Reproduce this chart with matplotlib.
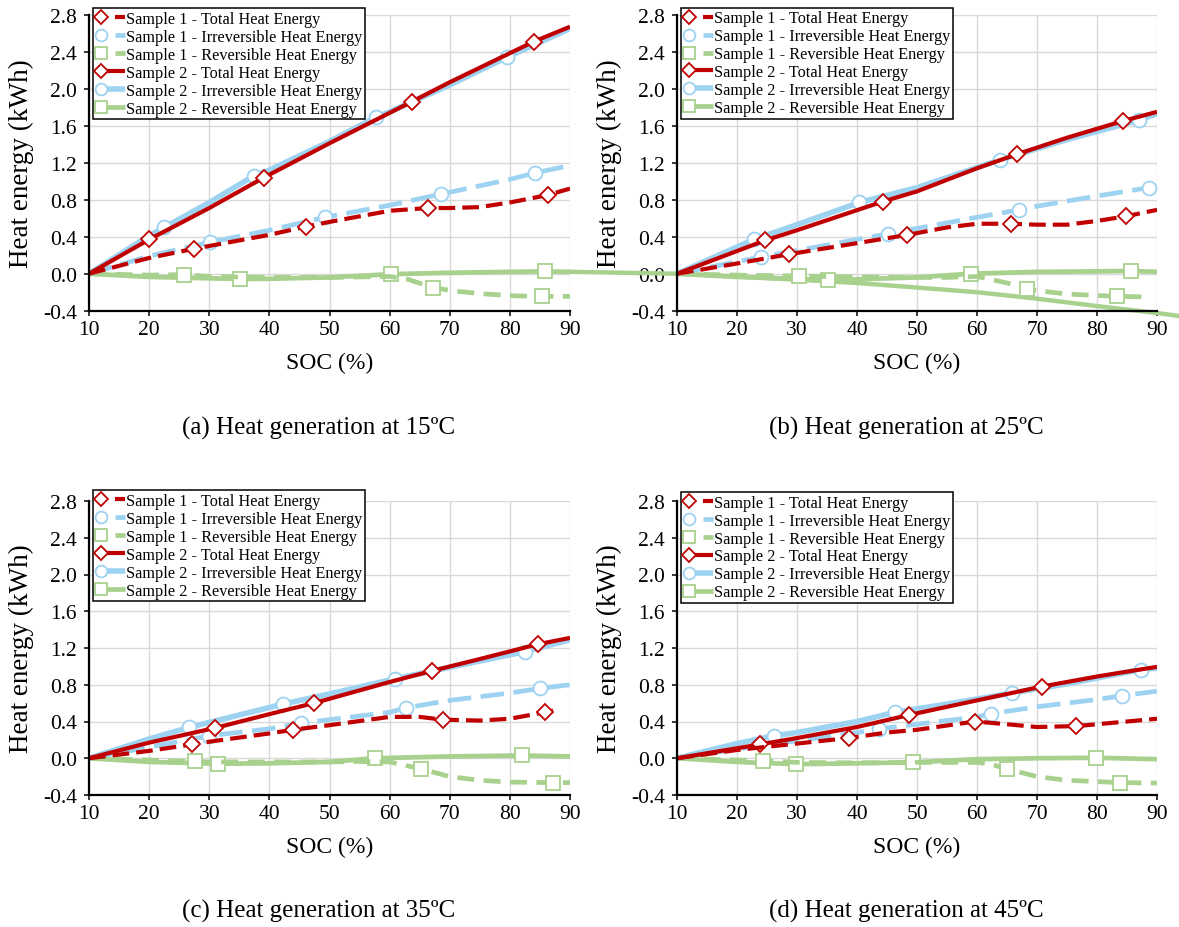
import numpy as np
import matplotlib
matplotlib.use('Agg')
import matplotlib.pyplot as plt
from matplotlib.legend_handler import HandlerLine2DCompound

plt.rcParams['font.family'] = ['Liberation Serif', 'DejaVu Serif']
plt.rcParams['axes.unicode_minus'] = False

# ---- data (SOC %, heat energy kWh) ----
x_ticks = [10, 20, 30, 40, 50, 60, 70, 80, 90]
y_ticks = [-0.4, 0.0, 0.4, 0.8, 1.2, 1.6, 2.0, 2.4, 2.8]

captions = ['(a) Heat generation at 15ºC', '(b) Heat generation at 25ºC',
            '(c) Heat generation at 35ºC', '(d) Heat generation at 45ºC']

labels = ['Sample 1 - Total Heat Energy', 'Sample 1 - Irreversible Heat Energy',
          'Sample 1 - Reversible Heat Energy', 'Sample 2 - Total Heat Energy',
          'Sample 2 - Irreversible Heat Energy', 'Sample 2 - Reversible Heat Energy']

# panel (a) 15 C
a_s1_tot_x = [10, 20, 27.5, 30, 40, 46.1, 50, 60, 66.4, 70, 75, 80, 86.3, 90]
a_s1_tot_y = [0, 0.17, 0.27, 0.30, 0.42, 0.51, 0.56, 0.68, 0.71, 0.71, 0.72, 0.77, 0.85, 0.92]
a_s1_tot_mk = [27.5, 46.1, 66.4, 86.3]
a_s1_irr_x = [10, 20, 30.1, 40, 49.3, 60, 68.5, 80, 84.2, 90]
a_s1_irr_y = [0, 0.19, 0.34, 0.47, 0.61, 0.74, 0.86, 1.02, 1.09, 1.17]
a_s1_irr_mk = [30.1, 49.3, 68.5, 84.2]
a_s1_rev_x = [10, 20, 25.8, 30, 40, 50, 55, 60, 63, 67.2, 71, 76, 81, 85.4, 90]
a_s1_rev_y = [0, -0.015, -0.01, -0.03, -0.04, -0.04, -0.035, -0.03, -0.06, -0.15, -0.19, -0.22, -0.24, -0.245, -0.245]
a_s1_rev_mk = [25.8, 67.2, 85.4]
a_s2_tot_x = [10, 20, 30, 39.1, 50, 63.7, 70, 84.0, 90]
a_s2_tot_y = [0, 0.37, 0.71, 1.04, 1.41, 1.86, 2.07, 2.51, 2.67]
a_s2_tot_mk = [20, 39.1, 63.7, 84.0]
a_s2_irr_x = [10, 20, 22.5, 30, 37.5, 40, 50, 57.7, 60, 70, 79.5, 90]
a_s2_irr_y = [0, 0.41, 0.50, 0.77, 1.06, 1.12, 1.43, 1.69, 1.75, 2.04, 2.34, 2.65]
a_s2_irr_mk = [22.5, 37.5, 57.7, 79.5]
a_s2_rev_x = [10, 20, 30, 35.1, 40, 50, 60.2, 70, 80, 85.8, 90]
a_s2_rev_y = [0, -0.035, -0.05, -0.057, -0.055, -0.04, -0.005, 0.01, 0.02, 0.025, 0.02]
a_s2_rev_mk = [35.1, 60.2, 85.8]

# panel (b) 25 C
b_s1_tot_x = [10, 20, 28.6, 40, 48.4, 55, 60, 65.6, 70, 75, 80, 84.75, 90]
b_s1_tot_y = [0, 0.11, 0.21, 0.33, 0.42, 0.50, 0.54, 0.54, 0.53, 0.53, 0.57, 0.62, 0.69]
b_s1_tot_mk = [28.6, 48.4, 65.6, 84.75]
b_s1_irr_x = [10, 20, 24.0, 30, 40, 45.1, 50, 60, 67.0, 70, 80, 88.6, 90]
b_s1_irr_y = [0, 0.13, 0.18, 0.25, 0.37, 0.43, 0.49, 0.61, 0.69, 0.73, 0.84, 0.93, 0.95]
b_s1_irr_mk = [24.0, 45.1, 67.0, 88.6]
b_s1_rev_x = [10, 20, 30.3, 40, 50, 55, 60, 65, 68.4, 75, 83.25, 88]
b_s1_rev_y = [0, -0.015, -0.025, -0.035, -0.04, -0.04, -0.03, -0.10, -0.17, -0.22, -0.245, -0.25]
b_s1_rev_mk = [30.3, 68.4, 83.25]
b_s2_tot_x = [10, 24.7, 30, 44.3, 50, 60, 66.6, 75, 84.3, 90]
b_s2_tot_y = [0, 0.36, 0.47, 0.78, 0.89, 1.14, 1.29, 1.47, 1.65, 1.75]
b_s2_tot_mk = [24.7, 44.3, 66.6, 84.3]
b_s2_irr_x = [10, 22.8, 30, 40.4, 50, 63.8, 75, 87, 90]
b_s2_irr_y = [0, 0.37, 0.53, 0.77, 0.93, 1.23, 1.45, 1.66, 1.73]
b_s2_irr_mk = [22.8, 40.4, 63.8, 87]
b_s2_rev_x = [10, 20, 30, 35.2, 40, 50, 59, 70, 80, 85.6, 90]
b_s2_rev_y = [0, -0.035, -0.055, -0.07, -0.06, -0.04, 0.0, 0.02, 0.025, 0.03, 0.02]
b_s2_rev_mk = [35.2, 59, 85.6]
# stray green line crossing from panel (a) into panel (b)
b_stray_x = [-7.7, 10, 20, 30, 40, 50, 60, 70, 80, 90, 94]
b_stray_y = [0.02, 0, -0.03, -0.065, -0.10, -0.15, -0.20, -0.27, -0.35, -0.425, -0.46]

# panel (c) 35 C
c_s1_tot_x = [10, 20, 27.1, 30, 40, 43.9, 50, 60, 65, 68.8, 75, 80, 85.8, 88]
c_s1_tot_y = [0, 0.08, 0.15, 0.18, 0.27, 0.31, 0.36, 0.45, 0.45, 0.42, 0.41, 0.43, 0.50, 0.53]
c_s1_tot_mk = [27.1, 43.9, 68.8, 85.8]
c_s1_irr_x = [10, 20, 30, 40, 45.2, 50, 60, 62.8, 70, 80, 85, 90]
c_s1_irr_y = [0, 0.12, 0.245, 0.32, 0.38, 0.42, 0.50, 0.55, 0.63, 0.71, 0.76, 0.80]
c_s1_irr_mk = [30, 45.2, 62.8, 85]
c_s1_rev_x = [10, 20, 27.7, 30, 40, 50, 55, 60, 65.2, 70, 75, 80, 87.1, 90]
c_s1_rev_y = [0, -0.02, -0.035, -0.04, -0.04, -0.04, -0.035, -0.04, -0.115, -0.20, -0.24, -0.26, -0.265, -0.265]
c_s1_rev_mk = [27.7, 65.2, 87.1]
c_s2_tot_x = [10, 20, 31.0, 40, 47.4, 60, 67.0, 75, 84.6, 90]
c_s2_tot_y = [0, 0.17, 0.33, 0.48, 0.60, 0.83, 0.95, 1.08, 1.24, 1.31]
c_s2_tot_mk = [31.0, 47.4, 67.0, 84.6]
c_s2_irr_x = [10, 20, 26.6, 30, 42.3, 50, 60.9, 70, 82.5, 90]
c_s2_irr_y = [0, 0.21, 0.335, 0.39, 0.59, 0.70, 0.865, 0.99, 1.16, 1.29]
c_s2_irr_mk = [26.6, 42.3, 60.9, 82.5]
c_s2_rev_x = [10, 20, 31.5, 40, 50, 57.5, 70, 82.0, 90]
c_s2_rev_y = [0, -0.04, -0.06, -0.055, -0.04, 0.0, 0.02, 0.03, 0.02]
c_s2_rev_mk = [31.5, 57.5, 82.0]

# panel (d) 45 C
d_s1_tot_x = [10, 20, 30, 38.6, 45, 50, 59.7, 65, 70, 76.5, 80, 90]
d_s1_tot_y = [0, 0.09, 0.16, 0.22, 0.28, 0.31, 0.40, 0.37, 0.34, 0.35, 0.37, 0.43]
d_s1_tot_mk = [38.6, 59.7, 76.5]
d_s1_irr_x = [10, 20, 30, 40, 43.6, 50, 60, 62.4, 70, 80, 84.2, 90]
d_s1_irr_y = [0, 0.10, 0.19, 0.28, 0.32, 0.37, 0.45, 0.485, 0.56, 0.64, 0.68, 0.73]
d_s1_irr_mk = [43.6, 62.4, 84.2]
d_s1_rev_x = [10, 20, 24.4, 30, 40, 50, 60, 62, 65, 70, 75, 83.8, 90]
d_s1_rev_y = [0, -0.02, -0.025, -0.045, -0.05, -0.045, -0.045, -0.06, -0.115, -0.20, -0.24, -0.265, -0.27]
d_s1_rev_mk = [24.4, 65, 83.8]
d_s2_tot_x = [10, 23.8, 30, 40, 48.6, 60, 70.8, 80, 90]
d_s2_tot_y = [0, 0.15, 0.22, 0.34, 0.47, 0.63, 0.78, 0.89, 0.995]
d_s2_tot_mk = [23.8, 48.6, 70.8]
d_s2_irr_x = [10, 20, 26.2, 30, 40, 46.3, 55, 65.8, 75, 87.3, 90]
d_s2_irr_y = [0, 0.16, 0.245, 0.28, 0.40, 0.50, 0.59, 0.71, 0.81, 0.965, 0.98]
d_s2_irr_mk = [26.2, 46.3, 65.8, 87.3]
d_s2_rev_x = [10, 20, 29.9, 40, 49.4, 60, 70, 79.8, 90]
d_s2_rev_y = [0, -0.04, -0.065, -0.055, -0.045, -0.01, 0.0, 0.005, -0.01]
d_s2_rev_mk = [29.9, 49.4, 79.8]

# ---- styling ----
RED = '#C00000'
BLUE = '#9DD3F1'
GREEN = '#A9D18E'

# kind -> (color, marker, markersize, solid lw, dashed lw, dash pattern)
styles = {
    'tot': (RED, 'D', 7.8, 3.0, 3.0, (4.0, 1.7)),
    'irr': (BLUE, 'o', 10.0, 4.0, 3.4, (5.0, 2.0)),
    'rev': (GREEN, 's', 10.0, 3.4, 3.4, (3.6, 2.0)),
}


class MarkerLeft(HandlerLine2DCompound):
    # excel style legend key: marker on the left, line running to the text
    def get_xdata(self, legend, xdescent, ydescent, width, height, fontsize):
        x0 = -xdescent
        return np.array([x0 + 0.35 * width, x0 + width]), np.array([x0 + 0.2 * width])

    def create_artists(self, legend, orig_handle, xdescent, ydescent,
                       width, height, fontsize, trans):
        arts = super().create_artists(legend, orig_handle, xdescent, ydescent,
                                      width, height, fontsize, trans)
        if orig_handle.get_linestyle() != '-':
            # dashed keys only show a short dash next to the text
            x0 = -xdescent
            arts[0].set_xdata([x0 + 0.66 * width, x0 + width])
            arts[0].set_linestyle('-')
        return arts


def draw(ax, x, y, mk, kind, sample):
    color, marker, ms, lw_s, lw_d, dash = styles[kind]
    idx = [x.index(m) for m in mk]
    line, = ax.plot(x, y, color=color, lw=lw_s if sample == 2 else lw_d,
                    marker=marker, markersize=ms, markevery=idx,
                    markerfacecolor='white', markeredgecolor=color,
                    markeredgewidth=1.3, solid_capstyle='butt')
    if sample == 1:
        line.set_dashes(dash)
    return line


fig = plt.figure(figsize=(11.79, 9.28), dpi=100)

positions = [
    [89 / 1179, 1 - 311.7 / 928, 481 / 1179, 296 / 928],
    [677 / 1179, 1 - 311.7 / 928, 480 / 1179, 296 / 928],
    [89 / 1179, 1 - 796 / 928, 481 / 1179, 294 / 928],
    [677 / 1179, 1 - 796 / 928, 480 / 1179, 294 / 928],
]
legend_top = [1.021, 1.023, 1.036, 1.030]

panels = [
    (a_s1_tot_x, a_s1_tot_y, a_s1_tot_mk, a_s1_irr_x, a_s1_irr_y, a_s1_irr_mk,
     a_s1_rev_x, a_s1_rev_y, a_s1_rev_mk, a_s2_tot_x, a_s2_tot_y, a_s2_tot_mk,
     a_s2_irr_x, a_s2_irr_y, a_s2_irr_mk, a_s2_rev_x, a_s2_rev_y, a_s2_rev_mk),
    (b_s1_tot_x, b_s1_tot_y, b_s1_tot_mk, b_s1_irr_x, b_s1_irr_y, b_s1_irr_mk,
     b_s1_rev_x, b_s1_rev_y, b_s1_rev_mk, b_s2_tot_x, b_s2_tot_y, b_s2_tot_mk,
     b_s2_irr_x, b_s2_irr_y, b_s2_irr_mk, b_s2_rev_x, b_s2_rev_y, b_s2_rev_mk),
    (c_s1_tot_x, c_s1_tot_y, c_s1_tot_mk, c_s1_irr_x, c_s1_irr_y, c_s1_irr_mk,
     c_s1_rev_x, c_s1_rev_y, c_s1_rev_mk, c_s2_tot_x, c_s2_tot_y, c_s2_tot_mk,
     c_s2_irr_x, c_s2_irr_y, c_s2_irr_mk, c_s2_rev_x, c_s2_rev_y, c_s2_rev_mk),
    (d_s1_tot_x, d_s1_tot_y, d_s1_tot_mk, d_s1_irr_x, d_s1_irr_y, d_s1_irr_mk,
     d_s1_rev_x, d_s1_rev_y, d_s1_rev_mk, d_s2_tot_x, d_s2_tot_y, d_s2_tot_mk,
     d_s2_irr_x, d_s2_irr_y, d_s2_irr_mk, d_s2_rev_x, d_s2_rev_y, d_s2_rev_mk),
]

for i, p in enumerate(panels):
    ax = fig.add_axes(positions[i])
    s1t, s1i, s1r = p[0:3], p[3:6], p[6:9]
    s2t, s2i, s2r = p[9:12], p[12:15], p[15:18]

    # drawing order: green below, red on top
    h_s2r = draw(ax, *s2r, 'rev', 2)
    h_s1r = draw(ax, *s1r, 'rev', 1)
    h_s2i = draw(ax, *s2i, 'irr', 2)
    h_s1i = draw(ax, *s1i, 'irr', 1)
    h_s2t = draw(ax, *s2t, 'tot', 2)
    h_s1t = draw(ax, *s1t, 'tot', 1)

    if i == 1:
        ax.plot(b_stray_x, b_stray_y, color=GREEN, lw=3.2, clip_on=False, zorder=1.5)

    ax.set_xlim(10, 90)
    ax.set_ylim(-0.4, 2.8)
    ax.set_xticks(x_ticks)
    ax.set_yticks(y_ticks)
    ax.set_yticklabels(['%.1f' % v for v in y_ticks])
    ax.tick_params(labelsize=15.5, length=3.6, width=1.1, direction='out')
    ax.tick_params(axis='x', pad=3)
    ax.tick_params(axis='y', pad=5)
    ax.grid(True, color='#D9D9D9', lw=1.0)
    ax.set_axisbelow(True)
    for s in ['top', 'right']:
        ax.spines[s].set_visible(False)
    for s in ['left', 'bottom']:
        ax.spines[s].set_linewidth(1.6)

    ax.set_xlabel('SOC (%)', fontsize=17)
    ax.xaxis.set_label_coords(0.5, -0.139)
    ax.set_ylabel('Heat energy (kWh)', fontsize=19.5)
    ax.yaxis.set_label_coords(-0.114, 0.5)

    ax.text(0.477, -0.414, captions[i], transform=ax.transAxes,
            ha='center', va='baseline', fontsize=18)

    handles = [h_s1t, h_s1i, h_s1r, h_s2t, h_s2i, h_s2r]
    leg = ax.legend(handles, labels, loc='upper left',
                    bbox_to_anchor=(0.008, legend_top[i]), borderaxespad=0,
                    fontsize=11.7, handlelength=1.85, handletextpad=0.05,
                    labelspacing=0.12, borderpad=0.15, fancybox=False,
                    framealpha=1, edgecolor='black', markerscale=0.85,
                    handler_map={matplotlib.lines.Line2D: MarkerLeft()})
    leg.get_frame().set_linewidth(1.1)

fig.savefig('out.png', dpi=100)
